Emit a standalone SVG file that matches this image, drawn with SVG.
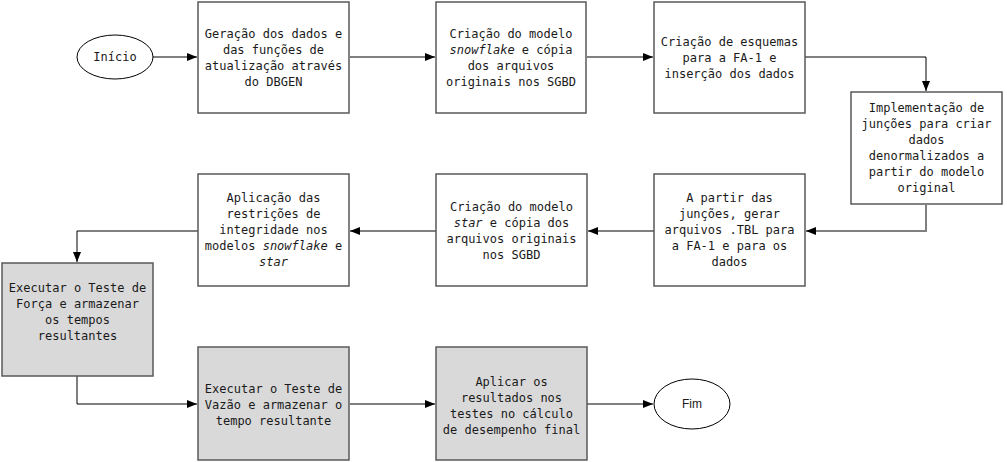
<svg xmlns="http://www.w3.org/2000/svg" width="1007" height="462" viewBox="0 0 1007 462">
<style>
.box{fill:#ffffff;stroke:#595959;stroke-width:1.5}
.gbox{fill:#d9d9d9;stroke:#595959;stroke-width:1.5}
.ell{fill:#ffffff;stroke:#000000;stroke-width:1}
.t{font-family:"DejaVu Sans Mono","Liberation Mono",monospace;font-size:12px;fill:#1a1a1a;text-anchor:middle}
.f{font-family:"Liberation Sans",Arial,sans-serif;font-size:12px;fill:#1a1a1a;text-anchor:middle}
.c{fill:none;stroke:#000000;stroke-width:1}
.cg{fill:none;stroke:#7f7f7f;stroke-width:2}
</style>
<defs>
<marker id="ah" markerWidth="10" markerHeight="8" refX="10" refY="4" orient="auto" markerUnits="userSpaceOnUse">
<path d="M0,0 L10,4 L0,8 Z" fill="#000000"/>
</marker>
</defs>
<rect width="1007" height="462" fill="#ffffff"/>
<g id="connectors">
<path class="c" d="M153,57 H197" marker-end="url(#ah)"/>
<path class="c" d="M350,57 H435" marker-end="url(#ah)"/>
<path class="c" d="M587,57 H653" marker-end="url(#ah)"/>
<path class="c" d="M805,57 H926 V91" marker-end="url(#ah)"/>
<path class="cg" d="M926,205 V231 H806" marker-end="url(#ah)"/>
<path class="cg" d="M654,231 H588" marker-end="url(#ah)"/>
<path class="cg" d="M436,231 H350" marker-end="url(#ah)"/>
<path class="c" d="M198,231 H77 V262" marker-end="url(#ah)"/>
<path class="c" d="M77,376 V404 H197" marker-end="url(#ah)"/>
<path class="c" d="M350,404 H435" marker-end="url(#ah)"/>
<path class="c" d="M587,404 H653" marker-end="url(#ah)"/>
</g>
<g id="inicio">
<ellipse class="ell" cx="115" cy="57" rx="38" ry="22"/>
<text class="t" x="115" y="61">Início</text>
</g>
<g id="n1">
<rect class="box" x="198" y="2" width="151" height="111"/>
<text class="t" x="273.5" y="37.5">Geração dos dados e</text>
<text class="t" x="273.5" y="53.5">das funções de</text>
<text class="t" x="273.5" y="69.5">atualização através</text>
<text class="t" x="273.5" y="85.5">do DBGEN</text>
</g>
<g id="n2">
<rect class="box" x="436" y="2" width="150" height="111"/>
<text class="t" x="511" y="37.5">Criação do modelo</text>
<text class="t" x="511" y="53.5"><tspan font-style="italic">snowflake</tspan> e cópia</text>
<text class="t" x="511" y="69.5">dos arquivos</text>
<text class="t" x="511" y="85.5">originais nos SGBD</text>
</g>
<g id="n3">
<rect class="box" x="654" y="2" width="151" height="111"/>
<text class="t" x="729.5" y="45.5">Criação de esquemas</text>
<text class="t" x="729.5" y="61.5">para a FA-1 e</text>
<text class="t" x="729.5" y="77.5">inserção dos dados</text>
</g>
<g id="n4">
<rect class="box" x="851" y="92" width="151" height="112"/>
<text class="t" x="926.5" y="112">Implementação de</text>
<text class="t" x="926.5" y="128">junções para criar</text>
<text class="t" x="926.5" y="144">dados</text>
<text class="t" x="926.5" y="160">denormalizados a</text>
<text class="t" x="926.5" y="176">partir do modelo</text>
<text class="t" x="926.5" y="192">original</text>
</g>
<g id="n5">
<rect class="box" x="654" y="174" width="151" height="112"/>
<text class="t" x="729.5" y="202">A partir das</text>
<text class="t" x="729.5" y="218">junções, gerar</text>
<text class="t" x="729.5" y="234">arquivos .TBL para</text>
<text class="t" x="729.5" y="250">a FA-1 e para os</text>
<text class="t" x="729.5" y="266">dados</text>
</g>
<g id="n6">
<rect class="box" x="436" y="174" width="151" height="112"/>
<text class="t" x="511.5" y="211">Criação do modelo</text>
<text class="t" x="511.5" y="227"><tspan font-style="italic">star</tspan> e cópia dos</text>
<text class="t" x="511.5" y="243">arquivos originais</text>
<text class="t" x="511.5" y="259">nos SGBD</text>
</g>
<g id="n7">
<rect class="box" x="198" y="174" width="151" height="112"/>
<text class="t" x="273.5" y="202">Aplicação das</text>
<text class="t" x="273.5" y="218">restrições de</text>
<text class="t" x="273.5" y="234">integridade nos</text>
<text class="t" x="273.5" y="250">modelos <tspan font-style="italic">snowflake</tspan> e</text>
<text class="t" x="273.5" y="266"><tspan font-style="italic">star</tspan></text>
</g>
<g id="n8">
<rect class="gbox" x="2" y="263" width="151" height="113"/>
<text class="t" x="77.5" y="292">Executar o Teste de</text>
<text class="t" x="77.5" y="308">Força e armazenar</text>
<text class="t" x="77.5" y="324">os tempos</text>
<text class="t" x="77.5" y="340">resultantes</text>
</g>
<g id="n9">
<rect class="gbox" x="198" y="347" width="151" height="113"/>
<text class="t" x="273.5" y="393">Executar o Teste de</text>
<text class="t" x="273.5" y="409">Vazão e armazenar o</text>
<text class="t" x="273.5" y="425">tempo resultante</text>
</g>
<g id="n10">
<rect class="gbox" x="436" y="347" width="151" height="113"/>
<text class="t" x="511.5" y="386">Aplicar os</text>
<text class="t" x="511.5" y="402">resultados nos</text>
<text class="t" x="511.5" y="418">testes no cálculo</text>
<text class="t" x="511.5" y="434">de desempenho final</text>
</g>
<g id="fim">
<ellipse class="ell" cx="692" cy="404" rx="38" ry="25"/>
<text class="f" x="692" y="408">Fim</text>
</g>
</svg>
